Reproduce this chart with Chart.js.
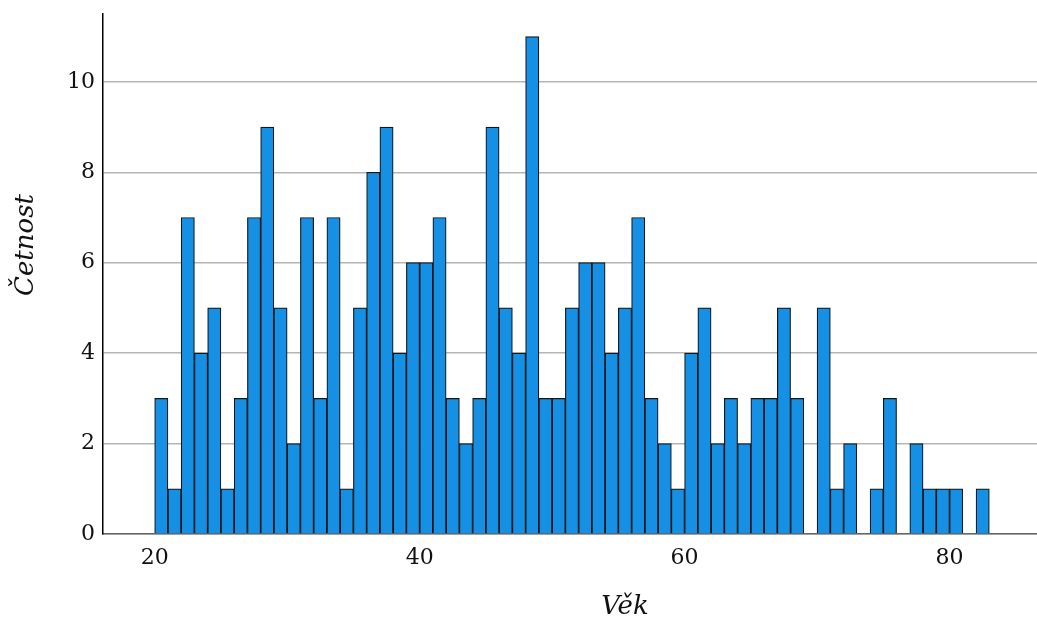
<!DOCTYPE html>
<html lang="cs">
<head>
    <meta charset="UTF-8" />
    <title>Věk - histogram</title>
    <script src="https://cdn.jsdelivr.net/npm/chart.js"></script>
    <style>
        html, body { margin: 0; padding: 0; background: #fff; }
        #wrap { width: 1037px; height: 620px; position: relative; }
    </style>
</head>
<body>
<div id="wrap"><canvas id="vekChart"></canvas></div>
<script>
    // vek (levy okraj tridy) a cetnost
    const ages = [20, 21, 22, 23, 24, 25, 26, 27, 28, 29,
                  30, 31, 32, 33, 34, 35, 36, 37, 38, 39,
                  40, 41, 42, 43, 44, 45, 46, 47, 48, 49,
                  50, 51, 52, 53, 54, 55, 56, 57, 58, 59,
                  60, 61, 62, 63, 64, 65, 66, 67, 68, 69,
                  70, 71, 72, 73, 74, 75, 76, 77, 78, 79,
                  80, 81, 82];
    const counts = [3, 1, 7, 4, 5, 1, 3, 7, 9, 5,
                    2, 7, 3, 7, 1, 5, 8, 9, 4, 6,
                    6, 7, 3, 2, 3, 9, 5, 4, 11, 3,
                    3, 5, 6, 6, 4, 5, 7, 3, 2, 1,
                    4, 5, 2, 3, 2, 3, 3, 5, 3, 0,
                    5, 1, 2, 0, 1, 3, 0, 2, 1, 1,
                    1, 0, 1];
    const xTicks = [20, 40, 60, 80];
    const yTicks = [0, 2, 4, 6, 8, 10];

    const serif = "'DejaVu Serif', 'Liberation Serif', serif";

    // popisky os kreslime sami, v originale nejsou presne na stredu
    const axisTitles = {
        id: 'axisTitles',
        afterDraw(chart) {
            const ctx = chart.ctx;
            const a = chart.chartArea;
            ctx.save();
            ctx.fillStyle = '#111';
            ctx.font = "italic 26px " + serif;
            ctx.textAlign = 'center';
            ctx.textBaseline = 'middle';
            ctx.fillText('Věk', (a.left + a.right) / 2 + 55, chart.height - 13);
            ctx.translate(26, (a.top + a.bottom) / 2 - 29);
            ctx.rotate(-Math.PI / 2);
            ctx.fillText('Četnost', 0, 0);
            ctx.restore();
        }
    };

    const points = ages.map((a, i) => ({ x: a + 0.5, y: counts[i] === 0 ? null : counts[i] }));

    new Chart(document.getElementById('vekChart'), {
        type: 'bar',
        data: {
            datasets: [{
                data: points,
                backgroundColor: '#1590e5',
                borderColor: '#161616',
                borderWidth: 1.2,
                categoryPercentage: 1,
                barPercentage: 1
            }]
        },
        options: {
            responsive: true,
            maintainAspectRatio: false,
            animation: false,
            layout: { padding: { top: 14, right: 0, left: 0, bottom: 0 } },
            plugins: { legend: { display: false }, tooltip: { enabled: false } },
            scales: {
                x: {
                    type: 'linear',
                    offset: false,
                    min: 16.1,
                    max: 86.6,
                    afterBuildTicks(scale) { scale.ticks = xTicks.map(v => ({ value: v })); },
                    afterFit(scale) { scale.height = 86; scale.paddingLeft = 0; scale.paddingRight = 0; },
                    ticks: { font: { family: serif, size: 22 }, color: '#111', padding: 11, maxRotation: 0 },
                    grid: { display: true, drawOnChartArea: false, drawTicks: false },
                    border: { display: true, color: '#666', width: 1.5 }
                },
                y: {
                    min: 0,
                    max: 11.5,
                    afterBuildTicks(scale) { scale.ticks = yTicks.map(v => ({ value: v })); },
                    afterFit(scale) { scale.width = 103; scale.paddingTop = 0; scale.paddingBottom = 0; },
                    ticks: { font: { family: serif, size: 22 }, color: '#111', padding: 8 },
                    grid: { color: '#b5b5b5', lineWidth: 1.5, drawTicks: false },
                    border: { display: true, color: '#000', width: 1.5 }
                }
            }
        },
        plugins: [axisTitles]
    });
</script>
</body>
</html>
